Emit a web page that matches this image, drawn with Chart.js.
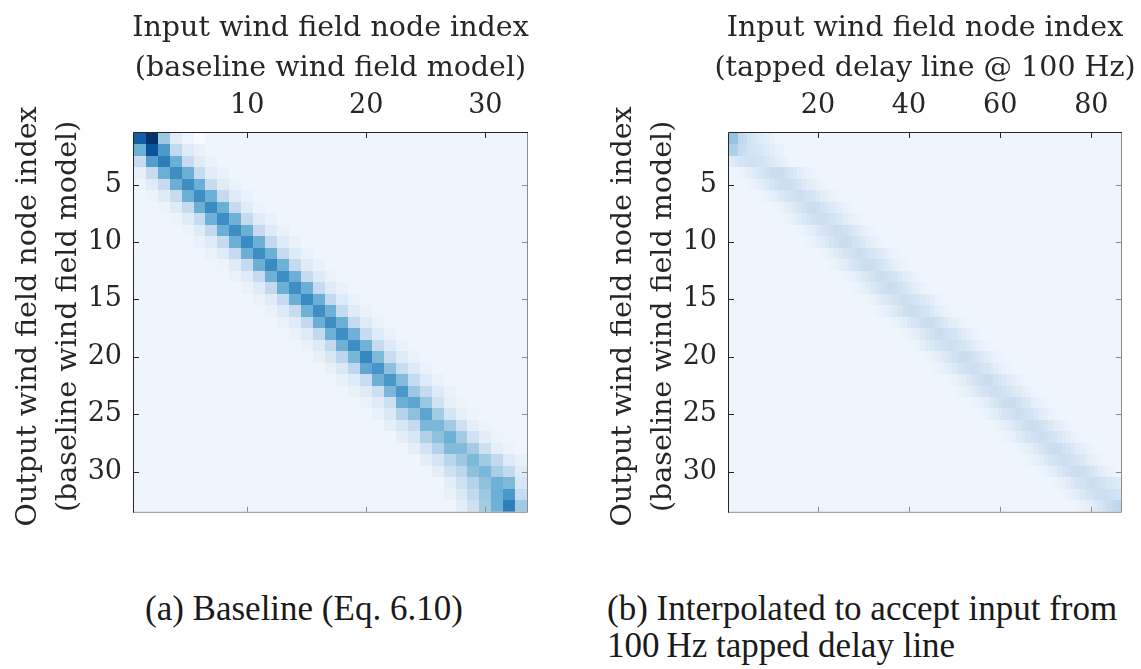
<!DOCTYPE html>
<html lang="en">
<head>
  <meta charset="UTF-8" />
  <title>Wind field interpolation matrices</title>
  <script src="https://cdn.jsdelivr.net/npm/chart.js"></script>
  <style>
    body {
      margin: 0;
      width: 1141px;
      height: 669px;
      position: relative;
      overflow: hidden;
      background: #fff;
      color: #262626;
    }
    canvas {
      position: absolute;
      top: 0;
    }
    #baseChart { left: 0; }
    #tdlChart { left: 575px; }
    .caption {
      position: absolute;
      top: 590px;
      font-family: 'Liberation Serif', serif;
      font-size: 35px;
      line-height: 37px;
      color: #1a1a1a;
      white-space: nowrap;
    }
  </style>
</head>
<body>

  <canvas id="baseChart" width="570" height="540"></canvas>
  <canvas id="tdlChart" width="566" height="540"></canvas>

  <div class="caption" style="left:145px">(a) Baseline (Eq. 6.10)</div>
  <div class="caption" style="left:607px">(b) Interpolated to accept input from<br>100&#8201;Hz tapped delay line</div>

  <script>
    const nodeYTicks = [5, 10, 15, 20, 25, 30];
    const baseXTicks = [10, 20, 30];
    const tdlXTicks = [20, 40, 60, 80];

    const nodeCount = 33;   // wind field nodes (rows, and columns of the baseline)
    const tapCount = 86;    // taps of the 100 Hz delay line
    const restLevel = 0.045; // weight away from the band

    // baseline: first column of each row's band, then the weights along it
    const baseBandStart = [1, 1, 1, 1, 1, 2, 3, 4, 5, 6, 7, 8, 9, 10, 11, 12, 13, 14, 15, 16, 17, 18, 19,
                           20, 21, 22, 23, 24, 25, 26, 27, 27, 28];
    const baseBand = [
      [0.82, 1.00, 0.38, 0.12, 0.05, 0.00],
      [0.50, 0.87, 0.59, 0.26, 0.12, 0.07],
      [0.24, 0.57, 0.70, 0.50, 0.25, 0.12, 0.07],
      [0.09, 0.25, 0.50, 0.64, 0.50, 0.25, 0.11, 0.07],
      [0.06, 0.12, 0.25, 0.50, 0.64, 0.50, 0.25, 0.12, 0.07],
      [0.06, 0.12, 0.25, 0.50, 0.64, 0.50, 0.25, 0.12, 0.07],
      [0.06, 0.12, 0.25, 0.50, 0.65, 0.50, 0.25, 0.12, 0.06],
      [0.06, 0.12, 0.25, 0.49, 0.64, 0.49, 0.25, 0.12, 0.07],
      [0.06, 0.12, 0.26, 0.50, 0.64, 0.50, 0.25, 0.12, 0.07],
      [0.07, 0.12, 0.25, 0.50, 0.65, 0.50, 0.26, 0.12, 0.07],
      [0.07, 0.12, 0.25, 0.50, 0.64, 0.50, 0.25, 0.12, 0.07],
      [0.06, 0.12, 0.25, 0.50, 0.65, 0.49, 0.25, 0.12, 0.07],
      [0.07, 0.12, 0.25, 0.49, 0.64, 0.50, 0.25, 0.13, 0.07],
      [0.07, 0.12, 0.26, 0.50, 0.64, 0.50, 0.25, 0.12, 0.07],
      [0.07, 0.12, 0.25, 0.50, 0.65, 0.50, 0.26, 0.13, 0.07],
      [0.07, 0.13, 0.25, 0.49, 0.64, 0.49, 0.25, 0.12, 0.07],
      [0.07, 0.12, 0.26, 0.50, 0.64, 0.50, 0.25, 0.13, 0.07],
      [0.07, 0.13, 0.26, 0.49, 0.64, 0.49, 0.25, 0.13, 0.07],
      [0.07, 0.13, 0.26, 0.49, 0.64, 0.48, 0.25, 0.13, 0.07],
      [0.08, 0.15, 0.28, 0.47, 0.67, 0.45, 0.24, 0.13, 0.07],
      [0.08, 0.14, 0.27, 0.53, 0.61, 0.42, 0.24, 0.13, 0.07],
      [0.08, 0.13, 0.24, 0.50, 0.60, 0.44, 0.25, 0.13, 0.07],
      [0.08, 0.12, 0.22, 0.46, 0.60, 0.38, 0.25, 0.13, 0.07],
      [0.07, 0.12, 0.22, 0.50, 0.54, 0.39, 0.20, 0.09, 0.06],
      [0.08, 0.14, 0.30, 0.42, 0.55, 0.36, 0.17, 0.09, 0.06],
      [0.09, 0.16, 0.25, 0.46, 0.46, 0.37, 0.20, 0.09, 0.06],
      [0.10, 0.16, 0.32, 0.42, 0.49, 0.36, 0.20, 0.10, 0.06],
      [0.10, 0.19, 0.31, 0.44, 0.44, 0.36, 0.21, 0.09, 0.06],
      [0.10, 0.18, 0.29, 0.38, 0.45, 0.37, 0.26, 0.13, 0.08],
      [0.10, 0.20, 0.28, 0.42, 0.46, 0.34, 0.26, 0.12],
      [0.10, 0.21, 0.31, 0.42, 0.49, 0.45, 0.16],
      [0.08, 0.14, 0.26, 0.38, 0.50, 0.60, 0.25],
      [0.10, 0.20, 0.36, 0.49, 0.70, 0.37]
    ];

    // interpolated to the delay line taps: same layout, 86 columns
    const tdlBandStart = [1, 1, 1, 3, 5, 8, 11, 13, 16, 18, 21, 23, 26, 28, 31, 33, 36, 39, 41, 44, 46, 49, 51,
                          54, 56, 59, 61, 64, 66, 69, 72, 74, 77];
    const tdlBand = [
      [0.40, 0.40, 0.27, 0.25, 0.19, 0.16, 0.13, 0.11, 0.09, 0.07],
      [0.33, 0.33, 0.24, 0.23, 0.19, 0.18, 0.16, 0.14, 0.12, 0.10, 0.08, 0.07],
      [0.13, 0.15, 0.18, 0.19, 0.20, 0.20, 0.19, 0.18, 0.16, 0.13, 0.11, 0.09, 0.07],
      [0.06, 0.07, 0.09, 0.12, 0.15, 0.18, 0.20, 0.22, 0.23, 0.22, 0.20, 0.17, 0.14, 0.11, 0.09, 0.07, 0.06],
      [0.06, 0.07, 0.09, 0.11, 0.14, 0.17, 0.20, 0.22, 0.23, 0.22, 0.19, 0.17, 0.14, 0.11, 0.09, 0.07, 0.06],
      [0.06, 0.07, 0.09, 0.11, 0.14, 0.17, 0.19, 0.21, 0.22, 0.21, 0.19, 0.17, 0.14, 0.11, 0.09, 0.07, 0.06],
      [0.06, 0.07, 0.09, 0.11, 0.14, 0.17, 0.20, 0.22, 0.23, 0.22, 0.19, 0.16, 0.13, 0.11, 0.09, 0.07, 0.06],
      [0.06, 0.07, 0.09, 0.12, 0.14, 0.17, 0.20, 0.22, 0.22, 0.21, 0.19, 0.17, 0.14, 0.11, 0.09, 0.07, 0.06],
      [0.06, 0.07, 0.09, 0.11, 0.14, 0.17, 0.19, 0.21, 0.23, 0.22, 0.20, 0.17, 0.14, 0.11, 0.09, 0.07, 0.06],
      [0.06, 0.07, 0.09, 0.11, 0.14, 0.17, 0.20, 0.22, 0.23, 0.22, 0.19, 0.17, 0.14, 0.11, 0.09, 0.07, 0.06],
      [0.06, 0.07, 0.09, 0.12, 0.14, 0.17, 0.19, 0.21, 0.22, 0.21, 0.19, 0.17, 0.14, 0.12, 0.09, 0.07, 0.06],
      [0.06, 0.07, 0.09, 0.11, 0.14, 0.17, 0.20, 0.22, 0.23, 0.22, 0.20, 0.17, 0.14, 0.11, 0.09, 0.07, 0.06],
      [0.06, 0.07, 0.09, 0.11, 0.14, 0.17, 0.19, 0.22, 0.22, 0.21, 0.19, 0.17, 0.14, 0.11, 0.09, 0.07, 0.06],
      [0.06, 0.07, 0.09, 0.11, 0.14, 0.17, 0.20, 0.22, 0.23, 0.22, 0.20, 0.17, 0.14, 0.11, 0.09, 0.07, 0.06],
      [0.06, 0.07, 0.09, 0.12, 0.14, 0.17, 0.19, 0.21, 0.22, 0.21, 0.19, 0.17, 0.14, 0.12, 0.09, 0.07, 0.06],
      [0.06, 0.07, 0.09, 0.11, 0.14, 0.17, 0.20, 0.22, 0.23, 0.22, 0.19, 0.17, 0.14, 0.11, 0.09, 0.07, 0.06],
      [0.06, 0.07, 0.09, 0.11, 0.14, 0.17, 0.19, 0.21, 0.22, 0.22, 0.20, 0.17, 0.14, 0.11, 0.09, 0.07, 0.06],
      [0.06, 0.07, 0.09, 0.11, 0.14, 0.17, 0.20, 0.22, 0.23, 0.21, 0.19, 0.17, 0.14, 0.11, 0.09, 0.07, 0.06],
      [0.06, 0.07, 0.09, 0.12, 0.14, 0.17, 0.19, 0.21, 0.22, 0.21, 0.19, 0.17, 0.14, 0.12, 0.09, 0.07, 0.06],
      [0.06, 0.07, 0.09, 0.11, 0.14, 0.17, 0.20, 0.22, 0.23, 0.22, 0.20, 0.17, 0.14, 0.11, 0.09, 0.07, 0.06],
      [0.06, 0.07, 0.09, 0.11, 0.14, 0.17, 0.19, 0.21, 0.22, 0.21, 0.19, 0.17, 0.14, 0.11, 0.09, 0.07, 0.06],
      [0.06, 0.07, 0.09, 0.11, 0.14, 0.17, 0.20, 0.22, 0.23, 0.22, 0.19, 0.17, 0.14, 0.11, 0.09, 0.07, 0.06],
      [0.06, 0.07, 0.09, 0.12, 0.14, 0.17, 0.19, 0.21, 0.22, 0.21, 0.19, 0.17, 0.14, 0.12, 0.09, 0.07, 0.06],
      [0.06, 0.07, 0.09, 0.11, 0.14, 0.17, 0.20, 0.22, 0.23, 0.22, 0.20, 0.17, 0.14, 0.11, 0.09, 0.07, 0.06],
      [0.06, 0.07, 0.09, 0.11, 0.14, 0.17, 0.19, 0.21, 0.22, 0.21, 0.19, 0.17, 0.14, 0.11, 0.09, 0.07, 0.06],
      [0.06, 0.07, 0.09, 0.11, 0.14, 0.17, 0.20, 0.22, 0.23, 0.22, 0.20, 0.17, 0.14, 0.11, 0.09, 0.07, 0.06],
      [0.06, 0.07, 0.09, 0.12, 0.14, 0.17, 0.19, 0.21, 0.22, 0.21, 0.19, 0.17, 0.14, 0.12, 0.09, 0.07, 0.06],
      [0.06, 0.07, 0.09, 0.11, 0.14, 0.17, 0.20, 0.22, 0.23, 0.22, 0.19, 0.17, 0.14, 0.11, 0.09, 0.07, 0.06],
      [0.06, 0.07, 0.09, 0.11, 0.14, 0.17, 0.19, 0.21, 0.22, 0.21, 0.19, 0.17, 0.14, 0.11, 0.09, 0.07, 0.06],
      [0.06, 0.07, 0.09, 0.11, 0.14, 0.17, 0.20, 0.22, 0.23, 0.22, 0.20, 0.17, 0.14, 0.11, 0.09, 0.07, 0.06],
      [0.06, 0.07, 0.09, 0.11, 0.14, 0.17, 0.19, 0.21, 0.22, 0.21, 0.20, 0.18, 0.16, 0.14, 0.12],
      [0.06, 0.07, 0.09, 0.11, 0.14, 0.17, 0.19, 0.21, 0.22, 0.22, 0.21, 0.20, 0.19],
      [0.06, 0.07, 0.09, 0.11, 0.14, 0.17, 0.20, 0.23, 0.26, 0.27]
    ];

    // Blues colour map, weights 0..1
    const bluesStops = ['#f7fbff', '#deebf7', '#c6dbef', '#9ecae1', '#6baed6', '#4292c6', '#2171b5', '#08519c', '#08306b']
      .map(h => [1, 3, 5].map(i => parseInt(h.substr(i, 2), 16)));

    function blues(v) {
      const t = Math.min(1, Math.max(0, v)) * (bluesStops.length - 1);
      const i = Math.min(bluesStops.length - 2, Math.floor(t));
      const f = t - i;
      const a = bluesStops[i], b = bluesStops[i + 1];
      return 'rgb(' + a.map((c, k) => Math.round(c + (b[k] - c) * f)).join(',') + ')';
    }

    function buildCells(cols, starts, bands) {
      const cells = [];
      for (let r = 1; r <= nodeCount; r++) {
        const start = starts[r - 1], band = bands[r - 1];
        for (let c = 1; c <= cols; c++) {
          const k = c - start;
          const v = (k >= 0 && k < band.length) ? band[k] : restLevel;
          cells.push({ x: c, y: r, v: v });
        }
      }
      return cells;
    }

    // fills one rectangle per matrix cell, placed through the chart scales
    const heatCells = {
      id: 'heatCells',
      beforeDatasetsDraw(chart) {
        const { ctx, chartArea: a, scales: { x, y } } = chart;
        ctx.save();
        ctx.beginPath();
        ctx.rect(a.left, a.top, a.width, a.height);
        ctx.clip();
        chart.data.datasets[0].data.forEach(c => {
          const x0 = Math.round(x.getPixelForValue(c.x - 0.5));
          const x1 = Math.round(x.getPixelForValue(c.x + 0.5));
          const y0 = Math.round(y.getPixelForValue(c.y - 0.5));
          const y1 = Math.round(y.getPixelForValue(c.y + 0.5));
          ctx.fillStyle = blues(c.v);
          ctx.fillRect(x0, y0, x1 - x0, y1 - y0);
        });
        ctx.restore();
      }
    };

    // axes box with inward ticks, and the two-line axis titles
    const axesFrame = {
      id: 'axesFrame',
      afterDraw(chart, args, opts) {
        const { ctx, chartArea: a, scales: { x, y } } = chart;
        const tl = 5;
        ctx.save();
        ctx.lineWidth = 1;

        ctx.strokeStyle = '#8c8c8c';
        ctx.beginPath();
        ctx.moveTo(a.left, a.bottom + 0.5);
        ctx.lineTo(a.right + 0.5, a.bottom + 0.5);
        ctx.lineTo(a.right + 0.5, a.top);
        x.ticks.forEach(t => {
          const px = Math.round(x.getPixelForValue(t.value)) + 0.5;
          ctx.moveTo(px, a.bottom); ctx.lineTo(px, a.bottom - tl);
        });
        y.ticks.forEach(t => {
          const py = Math.round(y.getPixelForValue(t.value)) + 0.5;
          ctx.moveTo(a.right, py); ctx.lineTo(a.right - tl, py);
        });
        ctx.stroke();

        ctx.strokeStyle = '#262626';
        ctx.beginPath();
        ctx.moveTo(a.left - 0.5, a.bottom + 1);
        ctx.lineTo(a.left - 0.5, a.top - 0.5);
        ctx.lineTo(a.right + 1, a.top - 0.5);
        x.ticks.forEach(t => {
          const px = Math.round(x.getPixelForValue(t.value)) + 0.5;
          ctx.moveTo(px, a.top); ctx.lineTo(px, a.top + tl);
        });
        y.ticks.forEach(t => {
          const py = Math.round(y.getPixelForValue(t.value)) + 0.5;
          ctx.moveTo(a.left, py); ctx.lineTo(a.left + tl, py);
        });
        ctx.stroke();

        ctx.fillStyle = '#262626';
        ctx.font = opts.size + "px 'DejaVu Serif'";
        ctx.textAlign = 'center';
        ctx.textBaseline = 'middle';
        const cx = (a.left + a.right) / 2;
        opts.top.forEach((line, i) => ctx.fillText(line, cx, a.top - opts.topGap + i * opts.lineGap));
        ctx.translate(a.left - opts.leftGap, (a.top + a.bottom) / 2 - opts.leftShift);
        ctx.rotate(-Math.PI / 2);
        opts.left.forEach((line, i) => ctx.fillText(line, 0, i * opts.lineGap));
        ctx.restore();
      }
    };

    const tickFont = { family: "'DejaVu Serif'", size: 27 };

    function drawMatrix(id, cols, starts, bands, xTicks, topTitle, yWidth, rightPad) {
      new Chart(document.getElementById(id), {
        type: 'scatter',
        data: {
          datasets: [{ data: buildCells(cols, starts, bands), pointRadius: 0 }]
        },
        options: {
          responsive: false,
          animation: false,
          events: [],
          layout: { padding: { left: 0, top: 0, right: rightPad, bottom: 24 } },
          scales: {
            x: {
              type: 'linear',
              position: 'top',
              min: 0.5,
              max: cols + 0.5,
              afterBuildTicks: s => { s.ticks = xTicks.map(v => ({ value: v })); },
              afterFit: s => { s.height = 133; },
              grid: { display: false, drawTicks: false },
              border: { display: false },
              ticks: { font: tickFont, color: '#262626', padding: 11, maxRotation: 0, autoSkip: false }
            },
            y: {
              type: 'linear',
              reverse: true,
              min: 0.5,
              max: nodeCount + 0.5,
              afterBuildTicks: s => { s.ticks = nodeYTicks.map(v => ({ value: v })); },
              afterFit: s => { s.width = yWidth; },
              grid: { display: false, drawTicks: false },
              border: { display: false },
              ticks: { font: tickFont, color: '#262626', padding: 12, autoSkip: false }
            }
          },
          plugins: {
            legend: { display: false },
            tooltip: { enabled: false },
            axesFrame: {
              size: 28.5,
              lineGap: 40,
              topGap: 104,
              leftGap: 105,
              leftShift: 6,
              top: topTitle,
              left: ['Output wind field node index', '(baseline wind field model)']
            }
          }
        },
        plugins: [heatCells, axesFrame]
      });
    }

    drawMatrix('baseChart', nodeCount, baseBandStart, baseBand, baseXTicks,
      ['Input wind field node index', '(baseline wind field model)'], 134, 43);
    drawMatrix('tdlChart', tapCount, tdlBandStart, tdlBand, tdlXTicks,
      ['Input wind field node index', '(tapped delay line @ 100 Hz)'], 154, 20);
  </script>

</body>
</html>
